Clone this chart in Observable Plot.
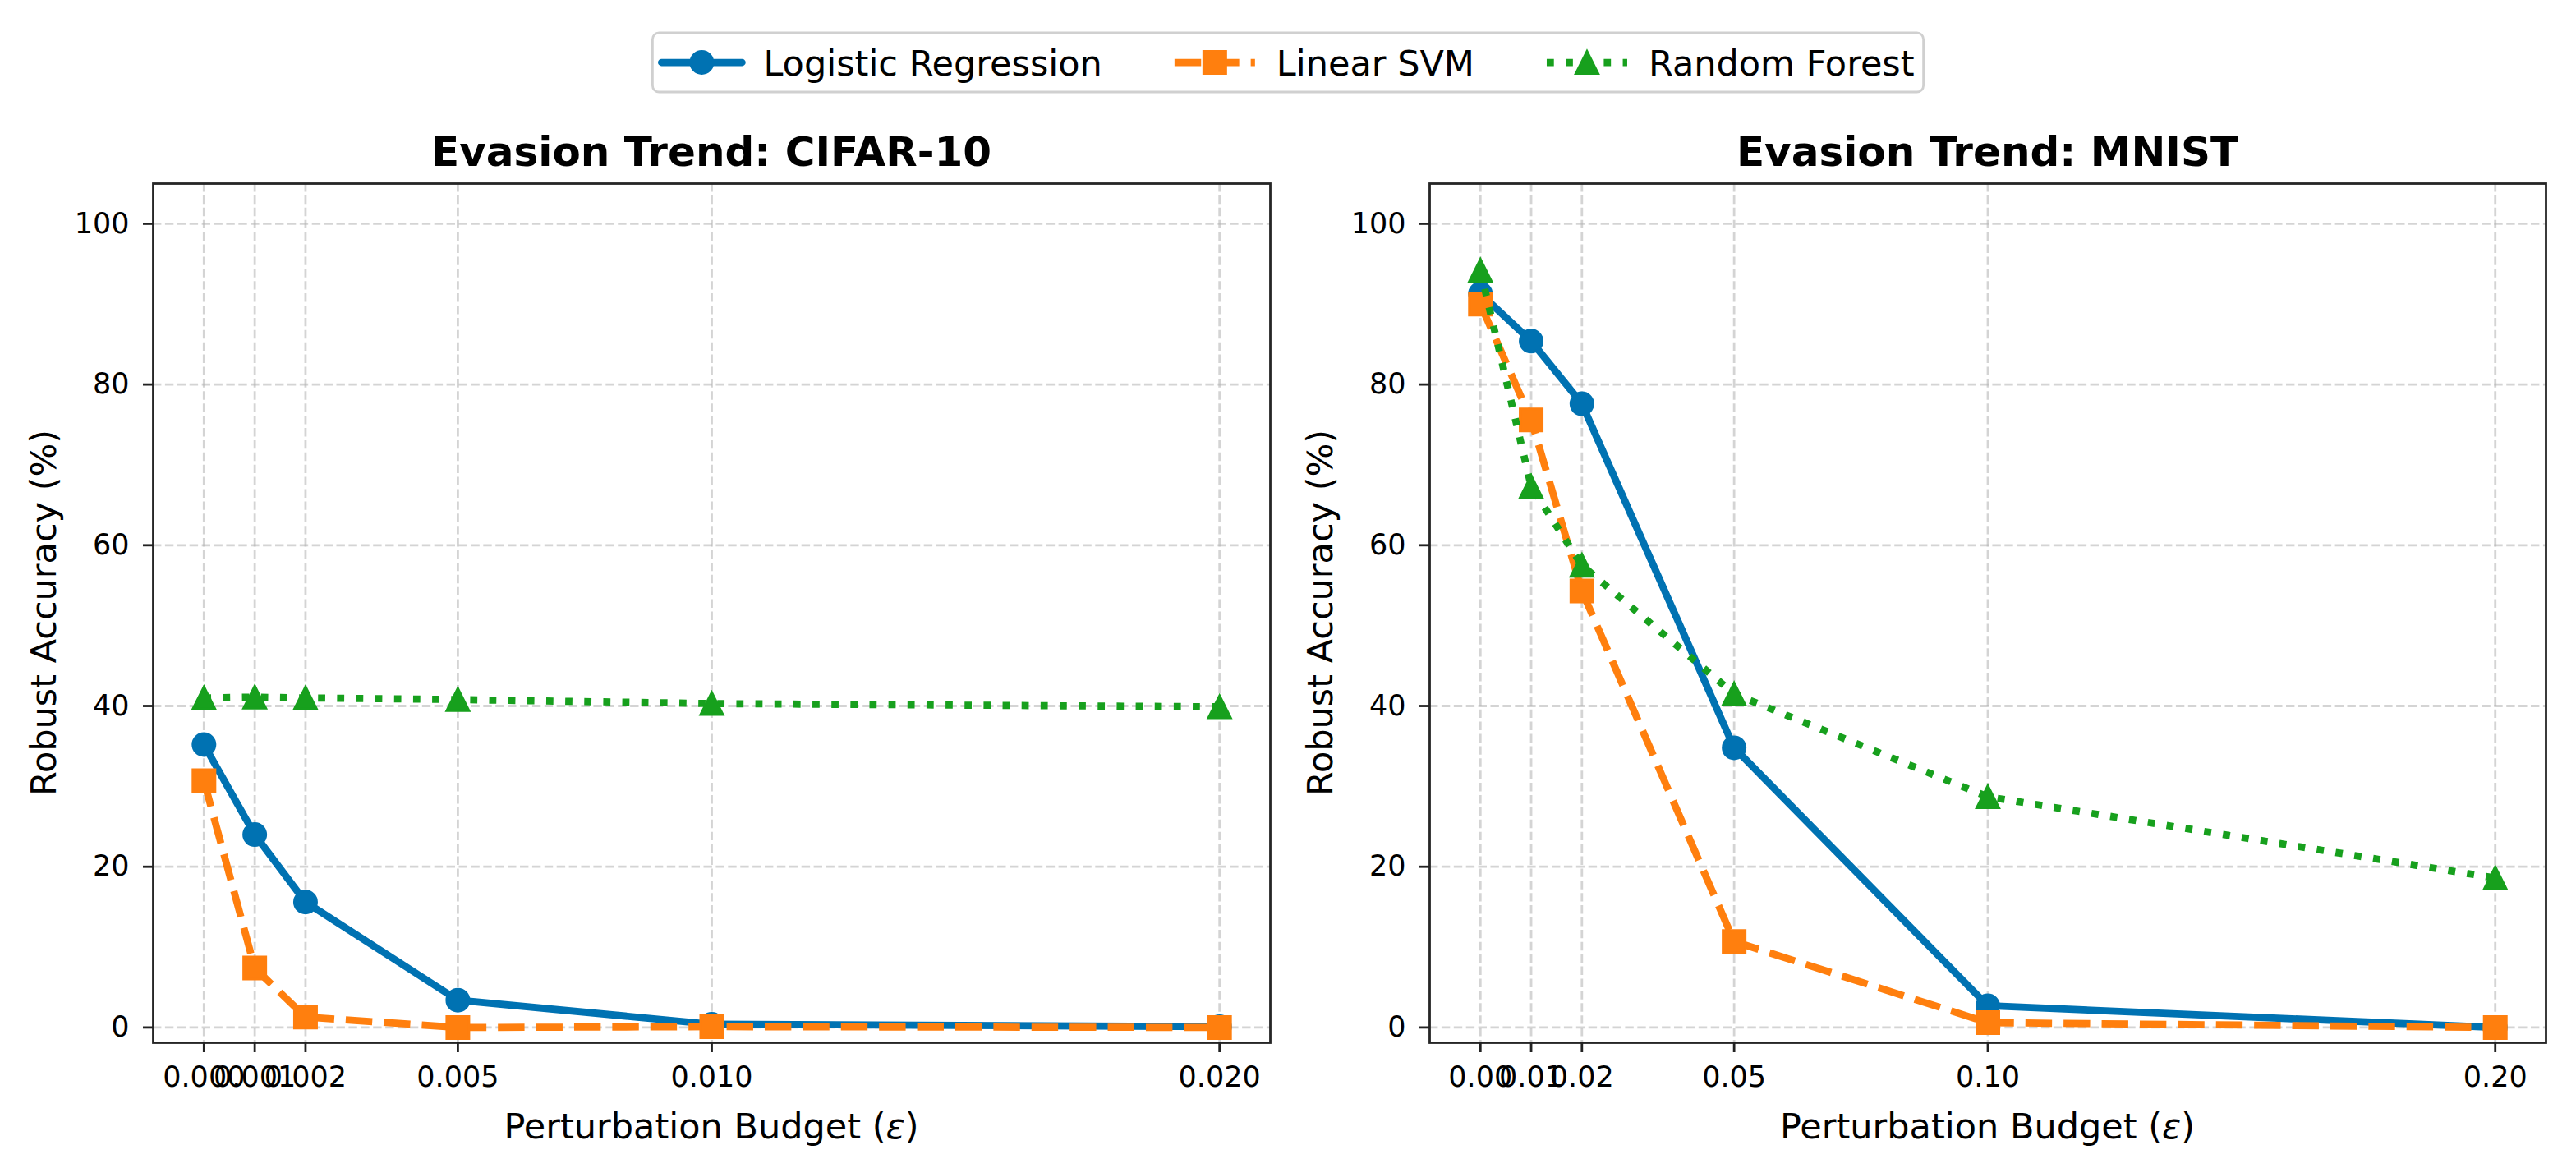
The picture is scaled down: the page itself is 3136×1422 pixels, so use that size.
<!DOCTYPE html>
<html>
<head>
<meta charset="utf-8">
<script src="https://cdn.jsdelivr.net/npm/d3@7"></script>
<script src="https://cdn.jsdelivr.net/npm/@observablehq/plot@0.6"></script>
<style>
  html, body { margin: 0; padding: 0; background: #fff; }
  #fig { position: relative; width: 3136px; height: 1422px; font-family: "DejaVu Sans", sans-serif; }
  #fig > svg { position: absolute; top: 0; }
</style>
</head>
<body>
<div id="fig"></div>
<script>
// Perturbation budgets (x) and robust accuracy (%) per model
const models = ["Logistic Regression", "Linear SVM", "Random Forest"];

const epsCifar = [0, 0.001, 0.002, 0.005, 0.010, 0.020];
const cifarLogReg = [35.2, 24.0, 15.6, 3.4, 0.4, 0.1];
const cifarSvm    = [30.7, 7.4, 1.3, 0.0, 0.1, 0.0];
const cifarForest = [41.0, 41.1, 41.0, 40.8, 40.3, 39.9];

const epsMnist = [0, 0.01, 0.02, 0.05, 0.10, 0.20];
const mnistLogReg = [91.3, 85.4, 77.6, 34.8, 2.7, 0.0];
const mnistSvm    = [90.0, 75.6, 54.3, 10.7, 0.6, 0.0];
const mnistForest = [94.2, 67.3, 57.5, 41.5, 28.7, 18.6];

const yTicks = [0, 20, 40, 60, 80, 100];

// Marker shapes sized like matplotlib's (bounding box 2r x 2r)
const squareSym = { draw(ctx, size) { const r = Math.sqrt(size / Math.PI); ctx.rect(-r, -r, 2 * r, 2 * r); } };
const triangleSym = { draw(ctx, size) { const r = Math.sqrt(size / Math.PI); ctx.moveTo(0, -r); ctx.lineTo(r, r); ctx.lineTo(-r, r); ctx.closePath(); } };

const styles = {
  "Logistic Regression": { color: "#0072B2", dash: null, cap: "round", symbol: "circle" },
  "Linear SVM":          { color: "#FF7F0E", dash: "32.4 14", cap: "butt", symbol: squareSym },
  "Random Forest":       { color: "#17A01D", dash: "8.75 14.4", cap: "butt", symbol: triangleSym }
};

const LW = 8.75, R = 13.5;

function toRows(eps, seriesList) {
  return models.flatMap((m, i) => eps.map((e, j) => ({ model: m, eps: e, acc: seriesList[i][j] })));
}

function seriesMarks(rows) {
  return models.flatMap(m => {
    const s = styles[m];
    const d = rows.filter(r => r.model === m);
    return [
      Plot.line(d, { x: "eps", y: "acc", stroke: s.color, strokeWidth: LW,
        strokeDasharray: s.dash, strokeLinejoin: "round", strokeLinecap: s.cap }),
      Plot.dot(d, { x: "eps", y: "acc", fill: s.color, stroke: s.color, strokeWidth: 3,
        r: R, symbol: s.symbol })
    ];
  });
}

function panel({ eps, series, xDomain, fmt, marginLeft, marginRight }) {
  const rows = toRows(eps, series);
  const gridStyle = { stroke: "#b0b0b0", strokeOpacity: 0.55, strokeWidth: 2.8, strokeDasharray: "10.4 4.5" };
  const axisStyle = { tickSize: 12, tickPadding: 17, fontSize: 35, stroke: "#222", strokeWidth: 2.8, label: null };
  return Plot.plot({
    width: 1568, height: 1422,
    marginLeft, marginRight, marginTop: 223, marginBottom: 153,
    style: { background: "none", color: "#000", fontFamily: "DejaVu Sans", maxWidth: "none" },
    x: { domain: xDomain },
    y: { domain: [-1.9, 105] },
    marks: [
      Plot.gridX(eps, gridStyle),
      Plot.gridY(yTicks, gridStyle),
      ...seriesMarks(rows),
      Plot.frame({ stroke: "#262626", strokeWidth: 2.8 }),
      Plot.axisX(eps, { ...axisStyle, tickFormat: d3.format(fmt) }),
      Plot.axisY(yTicks, axisStyle)
    ]
  });
}

const fig = document.getElementById("fig");

const left = panel({ eps: epsCifar, series: [cifarLogReg, cifarSvm, cifarForest],
  xDomain: [-0.001, 0.021], fmt: ".3f", marginLeft: 186, marginRight: 22 });
left.style.left = "0px";
fig.appendChild(left);

const right = panel({ eps: epsMnist, series: [mnistLogReg, mnistSvm, mnistForest],
  xDomain: [-0.01, 0.21], fmt: ".2f", marginLeft: 172, marginRight: 37 });
right.style.left = "1568px";
fig.appendChild(right);

// Titles, axis labels and the shared legend
const overlay = d3.select(fig).append("svg")
  .attr("width", 3136).attr("height", 1422)
  .style("left", "0px")
  .attr("font-family", "DejaVu Sans");

const frames = [
  { x0: 186, x1: 1546, title: "Evasion Trend: CIFAR-10" },
  { x0: 1740, x1: 3099, title: "Evasion Trend: MNIST" }
];
const frameTop = 223, frameBottom = 1269;

frames.forEach(f => {
  const cx = (f.x0 + f.x1) / 2;
  overlay.append("text").attr("x", cx).attr("y", 202)
    .attr("text-anchor", "middle").attr("font-size", 50).attr("font-weight", "bold")
    .text(f.title);
  const xl = overlay.append("text").attr("x", cx).attr("y", 1386)
    .attr("text-anchor", "middle").attr("font-size", 43);
  xl.append("tspan").text("Perturbation Budget (");
  xl.append("tspan").attr("font-style", "italic").text("ε");
  xl.append("tspan").text(")");
  overlay.append("text")
    .attr("transform", `translate(${f.x0 - 118},${(frameTop + frameBottom) / 2}) rotate(-90)`)
    .attr("text-anchor", "middle").attr("font-size", 43)
    .text("Robust Accuracy (%)");
});

// Legend
const legend = overlay.append("g");
const box = legend.append("rect");
const ly = 76, sampleW = 98, textPad = 26, colGap = 88, padX = 11;
let x = 0;
const items = legend.append("g");
models.forEach((m, i) => {
  const s = styles[m];
  const g = items.append("g");
  g.append("line").attr("x1", x).attr("x2", x + sampleW).attr("y1", ly).attr("y2", ly)
    .attr("stroke", s.color).attr("stroke-width", LW)
    .attr("stroke-dasharray", s.dash).attr("stroke-linecap", s.cap);
  const sym = typeof s.symbol === "string" ? d3.symbolCircle : s.symbol;
  g.append("path").attr("d", d3.symbol(sym, Math.PI * R * R)())
    .attr("transform", `translate(${x + sampleW / 2},${ly})`)
    .attr("fill", s.color).attr("stroke", s.color).attr("stroke-width", 3);
  const t = g.append("text").attr("x", x + sampleW + textPad).attr("y", ly + 15.5)
    .attr("font-size", 43).text(m);
  x += sampleW + textPad + t.node().getComputedTextLength() + (i < models.length - 1 ? colGap : 0);
});
const totalW = x + 2 * padX;
const bx = 1568 - totalW / 2;
items.attr("transform", `translate(${bx + padX},0)`);
box.attr("x", bx).attr("y", 40).attr("width", totalW).attr("height", 72)
  .attr("rx", 8).attr("fill", "#fff").attr("stroke", "#d0d0d0").attr("stroke-width", 2.8);
</script>
</body>
</html>
